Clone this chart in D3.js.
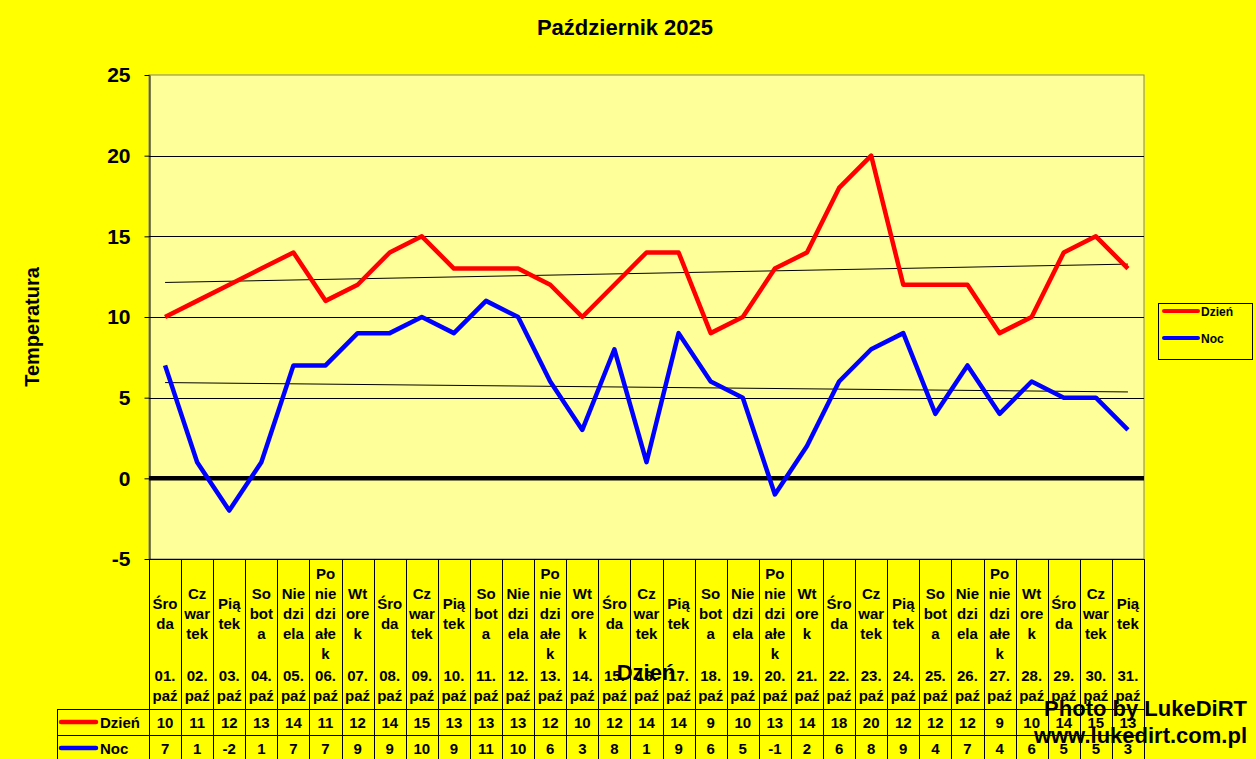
<!DOCTYPE html>
<html><head><meta charset="utf-8">
<script src="https://cdn.jsdelivr.net/npm/d3@7"></script>
<style>
body{margin:0;background:#ffff00;}
svg{display:block;font-family:"Liberation Sans",Arial,sans-serif;}
</style>
</head><body>
<svg id="c" width="1256" height="759"></svg>
<script>
const title = "Październik 2025";
const yTitle = "Temperatura";
const xTitle = "Dzień";
const dayNames = ["Środa","Czwartek","Piątek","Sobota","Niedziela","Poniedziałek","Wtorek",
  "Środa","Czwartek","Piątek","Sobota","Niedziela","Poniedziałek","Wtorek",
  "Środa","Czwartek","Piątek","Sobota","Niedziela","Poniedziałek","Wtorek",
  "Środa","Czwartek","Piątek","Sobota","Niedziela","Poniedziałek","Wtorek",
  "Środa","Czwartek","Piątek"];
const dates = ["01. paź","02. paź","03. paź","04. paź","05. paź","06. paź","07. paź","08. paź","09. paź","10. paź",
  "11. paź","12. paź","13. paź","14. paź","15. paź","16. paź","17. paź","18. paź","19. paź","20. paź",
  "21. paź","22. paź","23. paź","24. paź","25. paź","26. paź","27. paź","28. paź","29. paź","30. paź","31. paź"];
const dayTemps = [10,11,12,13,14,11,12,14,15,13,13,13,12,10,12,14,14,9,10,13,14,18,20,12,12,12,9,10,14,15,13];
const nightTemps = [7,1,-2,1,7,7,9,9,10,9,11,10,6,3,8,1,9,6,5,-1,2,6,8,9,4,7,4,6,5,5,3];
const seriesNames = ["Dzień","Noc"];
const seriesColors = ["#ff0000","#0000ff"];
const yTicks = [-5,0,5,10,15,20,25];
const watermark = ["Photo by LukeDiRT","www.lukedirt.com.pl"];

const svg = d3.select("#c");
const L = 149, R = 1144, T = 75, B = 559;
const tableLeft = 57, row1 = 709, row2 = 735, row3 = 761;

svg.append("rect").attr("width",1256).attr("height",759).attr("fill","#ffff00");

const idx = d3.range(dayTemps.length);
const x = d3.scaleBand().domain(idx).range([L,R]).paddingInner(0).paddingOuter(0);
const cx = i => x(i) + x.bandwidth()/2;
const y = d3.scaleLinear().domain([d3.min(yTicks), d3.max(yTicks)]).range([B,T]);

// plot area
svg.append("rect").attr("x",L).attr("y",T).attr("width",R-L).attr("height",B-T)
  .attr("fill","#ffff99").attr("stroke","#808080").attr("stroke-width",1);

// gridlines
svg.append("g").selectAll("line").data(yTicks.filter(v => v!==0 && v!==d3.max(yTicks) && v!==d3.min(yTicks)))
  .join("line").attr("x1",L).attr("x2",R).attr("y1",d=>Math.round(y(d))+0.5).attr("y2",d=>Math.round(y(d))+0.5)
  .attr("stroke","#000").attr("stroke-width",1);

// y axis
const yAxis = svg.append("g").attr("transform",`translate(${L+0.5},0)`)
  .call(d3.axisLeft(y).tickValues(yTicks).tickFormat(d=>String(d)).tickSize(5).tickPadding(14).tickSizeOuter(0));
yAxis.select(".domain").attr("stroke","#000");
yAxis.selectAll(".tick line").attr("stroke","#000");
yAxis.selectAll("text").attr("font-size",21).attr("font-weight","bold").attr("fill","#000")
  .attr("font-family","'Liberation Sans',Arial,sans-serif");

// bottom border
svg.append("line").attr("x1",L).attr("x2",R).attr("y1",B+0.5).attr("y2",B+0.5).attr("stroke","#000");

// trend lines (least squares)
function trend(vals){
  const n = vals.length, xs = d3.range(1,n+1);
  const mx = d3.mean(xs), my = d3.mean(vals);
  const b = d3.sum(xs,(xv,i)=>(xv-mx)*(vals[i]-my)) / d3.sum(xs,xv=>(xv-mx)*(xv-mx));
  const a = my - b*mx;
  return [a + b*1, a + b*n];
}
[dayTemps, nightTemps].forEach(vals=>{
  const t = trend(vals);
  svg.append("line").attr("x1",cx(0)).attr("x2",cx(vals.length-1))
    .attr("y1",y(t[0])).attr("y2",y(t[1])).attr("stroke","#000").attr("stroke-width",1);
});

// zero line
svg.append("line").attr("x1",L).attr("x2",R).attr("y1",y(0)).attr("y2",y(0))
  .attr("stroke","#000").attr("stroke-width",4.5);

// series
const line = d3.line().x((d,i)=>cx(i)).y(d=>y(d));
[dayTemps, nightTemps].forEach((vals,k)=>{
  svg.append("path").datum(vals).attr("d",line).attr("fill","none")
    .attr("stroke",seriesColors[k]).attr("stroke-width",4.5).attr("stroke-linejoin","round");
});

// data table grid
const grid = svg.append("g").attr("stroke","#000").attr("stroke-width",1);
d3.range(dayTemps.length+1).forEach(i=>{
  const xx = Math.round(i<dayTemps.length ? x(i) : R)+0.5;
  grid.append("line").attr("x1",xx).attr("x2",xx).attr("y1",B).attr("y2",row3);
});
grid.append("line").attr("x1",tableLeft+0.5).attr("x2",tableLeft+0.5).attr("y1",row1).attr("y2",row3);
[row1,row2].forEach(ry=>grid.append("line").attr("x1",tableLeft).attr("x2",R).attr("y1",ry+0.5).attr("y2",ry+0.5));

// category labels with character wrap
const ctx = document.createElement("canvas").getContext("2d");
ctx.font = "bold 15px 'Liberation Sans', Arial, sans-serif";
function charWrap(word, maxW){
  const out = []; let cur = "";
  for (const ch of word){
    if (cur && ctx.measureText(cur+ch).width > maxW){ out.push(cur); cur = ch; }
    else cur += ch;
  }
  if (cur) out.push(cur);
  return out;
}
const catG = svg.append("g").attr("font-size",15).attr("font-weight","bold").attr("text-anchor","middle").attr("fill","#000");
idx.forEach(i=>{
  const lines = charWrap(dayNames[i], 26.5);
  const c0 = 613 - (lines.length-1)*10;
  lines.forEach((s,j)=>catG.append("text").attr("x",cx(i)).attr("y",c0+j*20+5.5).text(s));
  dates[i].split(" ").forEach((s,j)=>catG.append("text").attr("x",cx(i)).attr("y",675+j*20+5.5).text(s));
});

// values in table
const valG = svg.append("g").attr("font-size",15).attr("font-weight","bold").attr("text-anchor","middle").attr("fill","#000");
[dayTemps, nightTemps].forEach((vals,k)=>{
  const yy = k===0 ? 728 : 754;
  vals.forEach((v,i)=>valG.append("text").attr("x",cx(i)).attr("y",yy).text(v));
  svg.append("line").attr("x1",61).attr("x2",96).attr("y1",yy-6).attr("y2",yy-6)
    .attr("stroke",seriesColors[k]).attr("stroke-width",4.5).attr("stroke-linecap","round");
  svg.append("text").attr("x",100).attr("y",yy).attr("font-size",15).attr("font-weight","bold").text(seriesNames[k]);
});

// legend
svg.append("rect").attr("x",1158.5).attr("y",303.5).attr("width",94).attr("height",56)
  .attr("fill","#ffff00").attr("stroke","#000");
seriesNames.forEach((n,k)=>{
  const yy = 311 + k*27;
  svg.append("line").attr("x1",1164).attr("x2",1198).attr("y1",yy).attr("y2",yy)
    .attr("stroke",seriesColors[k]).attr("stroke-width",4).attr("stroke-linecap","round");
  svg.append("text").attr("x",1201).attr("y",yy+4.5).attr("font-size",12).attr("font-weight","bold").text(n);
});

// titles
svg.append("text").attr("x",625).attr("y",35).attr("text-anchor","middle").attr("font-size",22)
  .attr("font-weight","bold").text(title);
svg.append("text").attr("transform","translate(39,327) rotate(-90)").attr("text-anchor","middle")
  .attr("font-size",20).attr("font-weight","bold").text(yTitle);
svg.append("text").attr("x",646).attr("y",680).attr("text-anchor","middle").attr("font-size",22)
  .attr("font-weight","bold").text(xTitle);

// watermark
watermark.forEach((s,k)=>svg.append("text").attr("x",1247).attr("y",716+k*27).attr("text-anchor","end")
  .attr("font-size",22).attr("font-weight","bold").attr("fill","#000").text(s));
</script>
</body></html>
